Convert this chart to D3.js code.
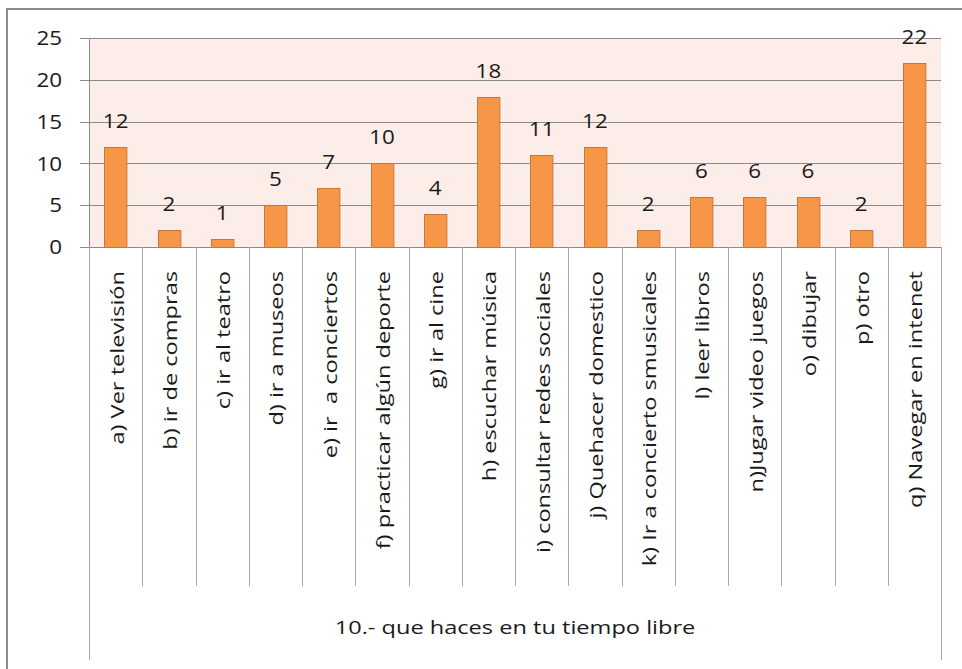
<!doctype html>
<html lang="es">
<head>
  <meta charset="utf-8">
  <title>10.- que haces en tu tiempo libre</title>
  <style>
  body { margin: 0; background: #fff; }
  svg { display: block; font-family: "Open Sans", "Noto Sans", sans-serif; }
  .grid line { stroke: #8a8a8a; stroke-width: 1; }
  .sep { stroke: #a8a8a8; stroke-width: 1; }
  .bar { fill: #f79646; stroke: #c8773a; stroke-width: 1; }
  text { fill: #1a1a1a; font-size: 18px; }
  text.num { font-size: 20px; }
  </style>
</head>
<body>
  <div id="chart"></div>
  <script src="https://d3js.org/d3.v7.min.js"></script>
  <script>
var categories = [
  "a) Ver televisión", "b) ir de compras", "c) ir al teatro", "d) ir a museos",
  "e) ir  a conciertos", "f) practicar algún deporte", "g) ir al cine",
  "h) escuchar música", "i) consultar redes sociales", "j) Quehacer domestico",
  "k) Ir a concierto smusicales", "l) leer libros", "n)Jugar video juegos",
  "o) dibujar", "p) otro", "q) Navegar en intenet"
];
var values = [12, 2, 1, 5, 7, 10, 4, 18, 11, 12, 2, 6, 6, 6, 2, 22];
var yTicks = [0, 5, 10, 15, 20, 25];
var axisTitle = "10.- que haces en tu tiempo libre";

(function() {
  var width = 962, height = 669;
  var left = 89, right = 941, top = 38, bottom = 247;
  var wideText = 1.31, wideNum = 1.12;   // the original text is drawn wider than usual

  var svg = d3.select("#chart").append("svg")
      .attr("width", width)
      .attr("height", height);

  // outer chart frame (only left/top visible in the picture)
  svg.append("rect")
      .attr("x", 7).attr("y", 9)
      .attr("width", 1000).attr("height", 1000)
      .attr("fill", "none")
      .attr("stroke", "#8c8c8c")
      .attr("stroke-width", 2);

  var x = d3.scaleBand().domain(categories).range([left, right]).paddingInner(0.58).paddingOuter(0.29);
  var y = d3.scaleLinear().domain([0, 25]).range([bottom, top]);

  svg.append("rect")
      .attr("x", left).attr("y", top)
      .attr("width", right - left).attr("height", bottom - top)
      .attr("fill", "#fcede8");

  var grid = svg.append("g").attr("class", "grid");
  grid.selectAll("line").data(yTicks).enter().append("line")
      .attr("x1", left - 9).attr("x2", right)
      .attr("y1", function(d) { return Math.round(y(d)) + 0.5; })
      .attr("y2", function(d) { return Math.round(y(d)) + 0.5; });

  // value axis line
  grid.append("line")
      .attr("x1", left + 0.5).attr("x2", left + 0.5)
      .attr("y1", top).attr("y2", bottom);

  svg.append("g").selectAll("text").data(yTicks).enter().append("text")
      .attr("class", "num")
      .attr("transform", function(d) { return "translate(62," + y(d) + ") scale(" + wideNum + ",1)"; })
      .attr("dy", "0.36em")
      .attr("text-anchor", "end")
      .text(function(d) { return d; });

  // category separators
  var step = (right - left) / categories.length;
  var bounds = d3.range(categories.length + 1);
  svg.append("g").selectAll("line").data(bounds).enter().append("line")
      .attr("class", "sep")
      .attr("x1", function(i) { return Math.round(left + i * step) + 0.5; })
      .attr("x2", function(i) { return Math.round(left + i * step) + 0.5; })
      .attr("y1", bottom)
      .attr("y2", function(i) { return (i === 0 || i === categories.length) ? 660 : 586; });

  svg.append("g").selectAll("rect").data(values).enter().append("rect")
      .attr("class", "bar")
      .attr("x", function(d, i) { return Math.round(x(categories[i])) + 0.5; })
      .attr("y", function(d) { return Math.round(y(d)) + 0.5; })
      .attr("width", x.bandwidth())
      .attr("height", function(d) { return Math.round(bottom - y(d)); });

  svg.append("g").selectAll("text").data(values).enter().append("text")
      .attr("class", "num")
      .attr("transform", function(d, i) {
        var cx = x(categories[i]) + x.bandwidth() / 2;
        return "translate(" + cx + "," + (y(d) - 19) + ") scale(" + wideNum + ",1)";
      })
      .attr("text-anchor", "middle")
      .text(function(d) { return d; });

  svg.append("g").selectAll("text").data(categories).enter().append("text")
      .attr("transform", function(d) {
        return "translate(" + (x(d) + x.bandwidth() / 2) + ",271) rotate(-90) scale(" + wideText + ",1)";
      })
      .attr("dy", "0.45em")
      .attr("text-anchor", "end")
      .style("white-space", "pre")
      .text(function(d) { return d; });

  svg.append("text")
      .attr("transform", "translate(" + (left + right) / 2 + ",634) scale(" + wideText + ",1)")
      .attr("text-anchor", "middle")
      .text(axisTitle);
})();
  </script>
</body>
</html>
